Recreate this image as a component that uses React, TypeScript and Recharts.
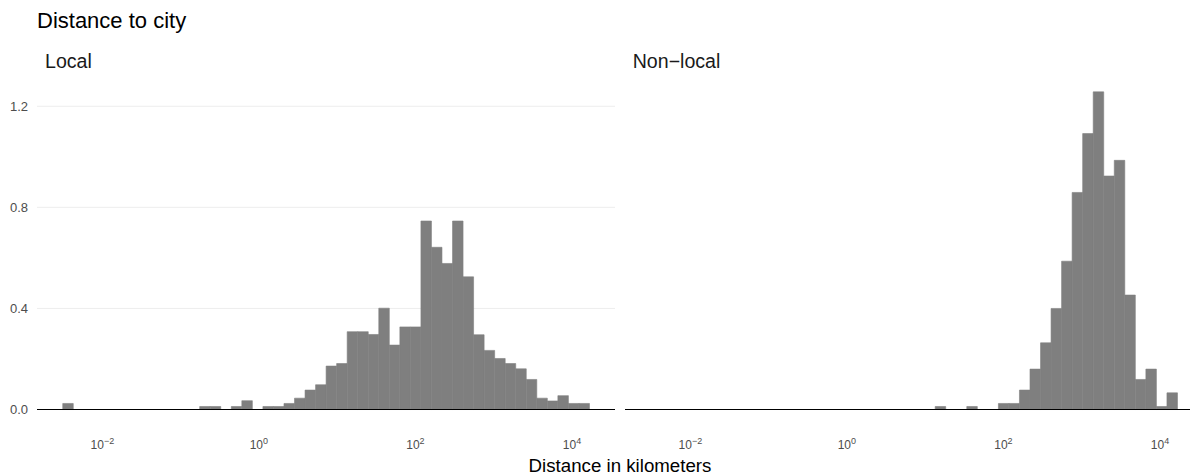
import { BarChart, Bar, XAxis, YAxis, CartesianGrid, ReferenceLine } from 'recharts';

// histogram bins in log10(km): first edge and bin width
const BIN_START = -2.506;
const BIN_WIDTH = 0.1346;

// density per bin (50 bins)
const LOCAL = [
  0.024, 0, 0, 0, 0, 0, 0, 0, 0, 0,
  0, 0, 0, 0.012, 0.012, 0, 0.012, 0.035, 0, 0.012,
  0.012, 0.024, 0.045, 0.077, 0.098, 0.172, 0.182, 0.308, 0.308, 0.297,
  0.401, 0.255, 0.327, 0.327, 0.746, 0.642, 0.578, 0.746, 0.525, 0.296,
  0.234, 0.202, 0.182, 0.161, 0.119, 0.045, 0.034, 0.055, 0.024, 0.024,
];
const NON_LOCAL = [
  0, 0, 0, 0, 0, 0, 0, 0, 0, 0,
  0, 0, 0, 0, 0, 0, 0, 0, 0, 0,
  0, 0, 0, 0, 0, 0, 0, 0.012, 0, 0,
  0.012, 0, 0, 0.024, 0.024, 0.077, 0.16, 0.264, 0.4, 0.587,
  0.859, 1.092, 1.257, 0.924, 0.986, 0.453, 0.119, 0.16, 0.012, 0.066,
];

const X_TICKS = [-2, 0, 2, 4];
const X_TICK_EXP = ['−2', '0', '2', '4'];
const Y_TICKS = [0, 0.4, 0.8, 1.2];

const X_DOMAIN: [number, number] = [-2.835, 4.55];
const Y_DOMAIN: [number, number] = [-0.0628, 1.3198];

const PANEL_W = 578;
const Y_AXIS_W = 37;
const FONT = '"Liberation Sans", Arial, Helvetica, sans-serif';

function PowerTick(props: any) {
  const { x, y, payload } = props;
  const exp = X_TICK_EXP[X_TICKS.indexOf(payload.value)];
  return (
    <text x={x} y={y + 16} textAnchor="middle" fill="#4d4d4d" fontFamily={FONT} fontSize={12}>
      10<tspan dy={-5} fontSize={9}>{exp}</tspan>
    </text>
  );
}

function Panel({ values, showY }: { values: number[]; showY: boolean }) {
  const data = values.map((d, i) => ({ x: BIN_START + (i + 0.5) * BIN_WIDTH, density: d }));
  // a hair under the band so recharts keeps the size instead of shrinking to 90%
  const barPx = (BIN_WIDTH * PANEL_W) / (X_DOMAIN[1] - X_DOMAIN[0]) - 0.02;
  return (
    <BarChart
      width={Y_AXIS_W + PANEL_W + 5}
      height={475}
      data={data}
      margin={{ top: 76, right: 5, bottom: 19.6, left: 0 }}
      barCategoryGap={0}
      barGap={0}
    >
      <CartesianGrid vertical={false} horizontalValues={Y_TICKS} stroke="#ebebeb" strokeWidth={0.9} />
      <XAxis
        type="number"
        dataKey="x"
        domain={X_DOMAIN}
        allowDataOverflow
        ticks={X_TICKS}
        interval={0}
        tickLine={false}
        axisLine={false}
        height={30}
        tick={<PowerTick />}
      />
      <YAxis
        type="number"
        domain={Y_DOMAIN}
        allowDataOverflow
        ticks={Y_TICKS}
        interval={0}
        width={Y_AXIS_W}
        tickLine={false}
        axisLine={false}
        tickSize={0}
        tickMargin={9}
        tickFormatter={(v: number) => v.toFixed(1)}
        tick={showY ? { fill: '#4d4d4d', fontSize: 13, fontFamily: FONT } : false}
      />
      <Bar
        dataKey="density"
        fill="#7f7f7f"
        stroke="#7f7f7f"
        strokeWidth={0.6}
        barSize={barPx}
        isAnimationActive={false}
      />
      <ReferenceLine y={0} stroke="#000000" strokeWidth={1.1} />
    </BarChart>
  );
}

export default function App() {
  return (
    <div
      style={{
        position: 'absolute',
        left: 0,
        top: 0,
        width: 1190,
        height: 475,
        overflow: 'hidden',
        background: '#ffffff',
      }}
    >
      <div style={{ position: 'absolute', left: 0, top: 0 }}>
        <Panel values={LOCAL} showY />
      </div>
      <div style={{ position: 'absolute', left: 587.5, top: 0 }}>
        <Panel values={NON_LOCAL} showY={false} />
      </div>
      <svg
        width={1190}
        height={475}
        style={{ position: 'absolute', left: 0, top: 0, pointerEvents: 'none' }}
        fontFamily={FONT}
      >
        <text x={37} y={28.3} fontSize={22} fill="#000000">Distance to city</text>
        <text x={45} y={68.3} fontSize={19.6} fill="#1a1a1a">Local</text>
        <text x={632.7} y={68.3} fontSize={19.6} fill="#1a1a1a">Non−local</text>
        <text x={620} y={471.7} fontSize={18.7} textAnchor="middle" fill="#000000">
          Distance in kilometers
        </text>
      </svg>
    </div>
  );
}
